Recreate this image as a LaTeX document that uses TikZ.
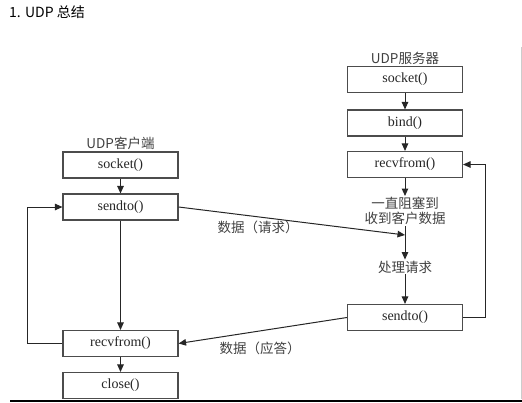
\documentclass[tikz,border=0pt]{standalone}
\usepackage{fontspec}
\setmainfont{Liberation Serif}
\newfontfamily\cjk{Noto Sans CJK SC}
\usetikzlibrary{arrows.meta}

\begin{document}
\begin{tikzpicture}[x=1pt,y=-1pt,
    callbox/.style={draw=black!70,line width=1.1pt,fill=white,minimum width=115pt,minimum height=26pt,inner sep=0pt,text=black!85,font=\fontsize{14}{16}\selectfont},
    note/.style={font=\cjk\fontsize{13.5}{15}\selectfont,text=black!75,align=center,inner sep=1pt},
    flow/.style={draw=black!85,line width=1pt,-{Triangle[length=7.5pt,width=6.5pt]}}]

    \newcommand*{\clientx}{120.5}%
    \newcommand*{\serverx}{405}%

    \useasboundingbox (0,0) rectangle (522,402);

    % page ↓
    \node[anchor=west,font=\cjk\fontsize{14}{16}\selectfont,inner sep=0pt] (pagetitle) at (9,12) {1. UDP 总结};
    \draw[black!20, line width=0.8pt] (521,47) -- (521,399);
    \draw[black, line width=2pt] (10,400.5) -- (522,400.5);

    % server ↓
    \node[note] (stitle) at (\serverx,58) {UDP服务器};
    \node[callbox] (ssocket) at (\serverx,79.5) {socket()};
    \node[callbox] (sbind) at (\serverx,123) {bind()};
    \node[callbox] (srecv) at (\serverx,164.5) {recvfrom()};
    \node[note] (sblock) at (\serverx,211) {一直阻塞到\\收到客户数据};
    \node[note] (sproc) at (\serverx,267) {处理请求};
    \node[callbox] (ssend) at (\serverx,317.5) {sendto()};
    \coordinate (sjoin) at (\serverx,235);

    \foreach \a/\b in {ssocket/sbind,sbind/srecv,srecv/sblock,sblock/sproc,sproc/ssend}
        \draw[flow] (\a) -- (\b);
    \draw[flow] (ssend.east) -- ++(22,0) |- (srecv.east);

    % client ↓
    \node[note] (ctitle) at (\clientx,143) {UDP客户端};
    \node[callbox] (csocket) at (\clientx,165) {socket()};
    \node[callbox] (csendto) at (\clientx,207) {sendto()};
    \node[callbox] (crecv) at (\clientx,343.5) {recvfrom()};
    \node[callbox] (cclose) at (\clientx,385.5) {close()};

    \foreach \a/\b in {csocket/csendto,csendto/crecv,crecv/cclose}
        \draw[flow] (\a) -- (\b);
    \draw[flow] (crecv.west) -- ++(-35,0) |- (csendto.west);

    % data ↓
    \draw[flow] (csendto.east) -- (sjoin);
    \draw[flow] (ssend.west) -- (crecv.east);
    \node[note] (reqlabel) at (258,227) {数据（请求）};
    \node[note] (replabel) at (260,348) {数据（应答）};

\end{tikzpicture}
\end{document}
